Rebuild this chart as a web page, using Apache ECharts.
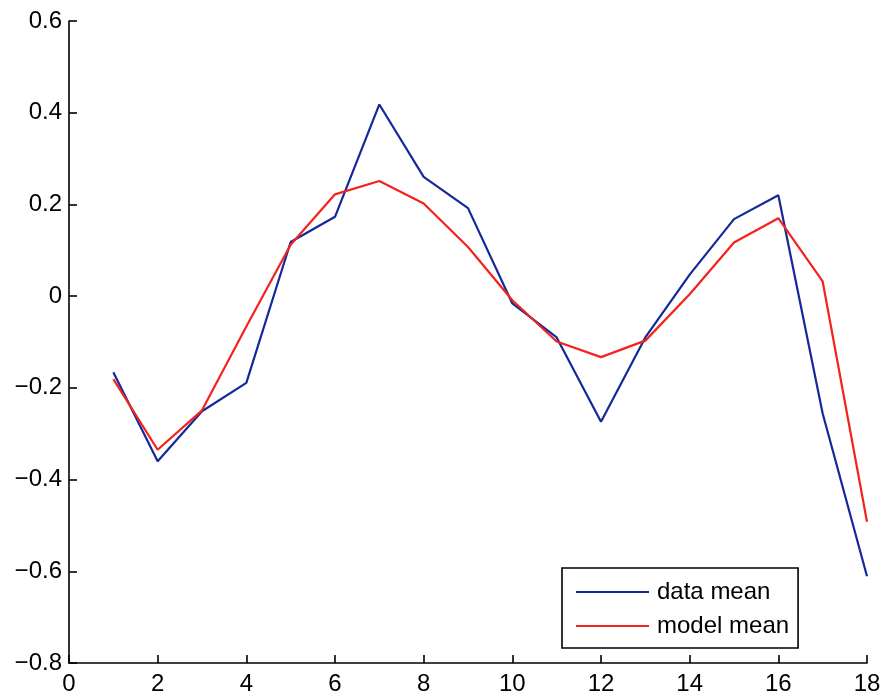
<!DOCTYPE html>
<html>
<head>
<meta charset="utf-8">
<title>data mean vs model mean</title>
<script src="https://cdn.jsdelivr.net/npm/echarts@6/dist/echarts.min.js"></script>
<style>
  html, body { margin: 0; padding: 0; background: #ffffff; }
  #chart { width: 887px; height: 696px; }
</style>
</head>
<body>
<div id="chart"></div>
<script>
// Sample positions along the x axis
var steps = [1, 2, 3, 4, 5, 6, 7, 8, 9, 10, 11, 12, 13, 14, 15, 16, 17, 18];

// Observed mean at each step
var dataMean = [-0.166, -0.360, -0.251, -0.189, 0.118, 0.173, 0.418, 0.260, 0.192,
                -0.016, -0.090, -0.274, -0.090, 0.047, 0.168, 0.220, -0.256, -0.611];

// Model mean at each step
var modelMean = [-0.181, -0.335, -0.249, -0.066, 0.112, 0.222, 0.251, 0.202, 0.107,
                 -0.009, -0.099, -0.133, -0.097, 0.004, 0.117, 0.170, 0.032, -0.492];

var seriesNames = ['data mean', 'model mean'];

function pairs(xs, ys) {
  return xs.map(function (x, i) { return [x, ys[i]]; });
}

function fmtY(v) {
  var r = Math.round(v * 10) / 10;
  if (r === 0) return '0';
  var s = Math.abs(r).toFixed(1);
  return (r < 0 ? '\u2212' : '') + s;
}

var font = 'Liberation Sans, Arial, Helvetica, sans-serif';
var axisLine = { show: true, onZero: false, lineStyle: { color: '#000', width: 1.6 } };
var axisTick = { show: true, inside: true, length: 8, lineStyle: { color: '#000', width: 1.6 } };

var chart = echarts.init(document.getElementById('chart'), null, { renderer: 'canvas' });

chart.setOption({
  backgroundColor: '#ffffff',
  animation: false,
  grid: { left: 69, right: 20, top: 21, bottom: 33, containLabel: false },
  xAxis: {
    type: 'value',
    min: 0, max: 18, interval: 2,
    axisLine: axisLine,
    axisTick: axisTick,
    splitLine: { show: false },
    axisLabel: { color: '#000', fontSize: 24, fontFamily: font, margin: 9 }
  },
  yAxis: {
    type: 'value',
    min: -0.8, max: 0.6, interval: 0.2,
    axisLine: axisLine,
    axisTick: axisTick,
    splitLine: { show: false },
    axisLabel: { color: '#000', fontSize: 24, fontFamily: font, margin: 7, formatter: fmtY }
  },
  legend: {
    orient: 'vertical',
    left: 562,
    top: 568,
    padding: [12, 9, 10, 14],
    itemWidth: 73,
    itemHeight: 14,
    itemGap: 10,
    borderColor: '#000',
    borderWidth: 1.6,
    backgroundColor: '#fff',
    textStyle: { color: '#000', fontSize: 24, fontFamily: font, padding: [0, 0, 0, 3] },
    data: seriesNames.map(function (n) { return { name: n, icon: 'path://M0,0 L73,0 L73,2 L0,2 Z' }; })
  },
  series: [
    {
      name: seriesNames[0],
      type: 'line',
      data: pairs(steps, dataMean),
      symbol: 'none',
      lineStyle: { color: '#14289a', width: 2.2 },
      itemStyle: { color: '#14289a' }
    },
    {
      name: seriesNames[1],
      type: 'line',
      data: pairs(steps, modelMean),
      symbol: 'none',
      lineStyle: { color: '#f5221c', width: 2.2 },
      itemStyle: { color: '#f5221c' }
    }
  ]
});
</script>
</body>
</html>
